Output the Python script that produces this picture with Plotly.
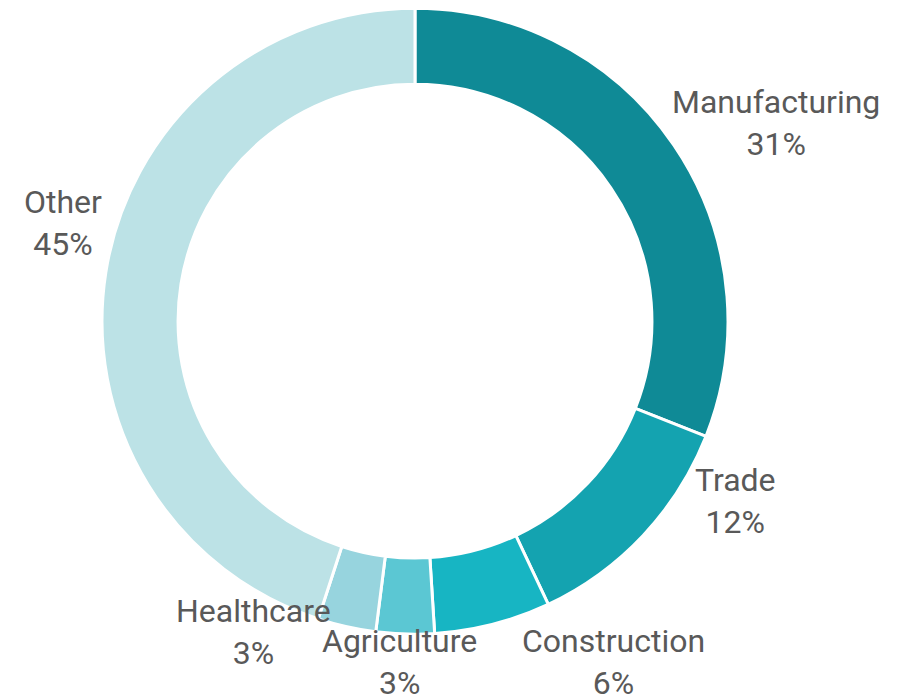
import math
import plotly.graph_objects as go

sectors = ["Manufacturing", "Trade", "Construction", "Agriculture", "Healthcare", "Other"]
shares = [31, 12, 6, 3, 3, 45]
colors = ["#0F8A96", "#14A3B0", "#17B5C3", "#5BC7D3", "#97D4DE", "#BCE2E6"]

# hand tuning of label spots (px), like the original layout
label_nudge = [(-10, -18), (44, -40), (25, 30), (-5, 20), (-12, -2), (6, -48)]

W, H = 910, 699
dom_x = [0.1033, 0.7912]
dom_y = [0.104, 1.0]

fig = go.Figure()

fig.add_trace(go.Pie(
    labels=sectors,
    values=shares,
    hole=0.757,
    sort=False,
    direction="clockwise",
    rotation=0,
    marker=dict(colors=colors, line=dict(color="white", width=3)),
    textinfo="none",
    hoverinfo="label+percent",
    automargin=False,
    domain=dict(x=dom_x, y=dom_y),
    showlegend=False,
))

# labels sit just outside the ring, at each slice's middle angle
cx = (dom_x[0] + dom_x[1]) / 2 * W
cy = (1 - (dom_y[0] + dom_y[1]) / 2) * H
r_label = min((dom_x[1] - dom_x[0]) * W, (dom_y[1] - dom_y[0]) * H) / 2 + 8
total = sum(shares)
start = 0
for name, val, (dx, dy) in zip(sectors, shares, label_nudge):
    mid = (start + val / 2) / total * 2 * math.pi
    start += val
    px = cx + r_label * math.sin(mid) + dx
    py = cy - r_label * math.cos(mid) + dy
    s = math.sin(mid)
    anchor = "left" if s > 0.1 else ("right" if s < -0.1 else "center")
    fig.add_annotation(
        x=px / W, y=1 - py / H, xref="paper", yref="paper",
        text=f"{name}<br>{round(val / total * 100)}%",
        showarrow=False, xanchor=anchor, yanchor="middle", align="center",
        font=dict(family="Roboto, sans-serif", size=32, color="#595959"),
    )

fig.update_layout(
    width=W,
    height=H,
    margin=dict(l=0, r=0, t=0, b=0),
    paper_bgcolor="white",
    plot_bgcolor="white",
)

fig.write_html("out.html")
